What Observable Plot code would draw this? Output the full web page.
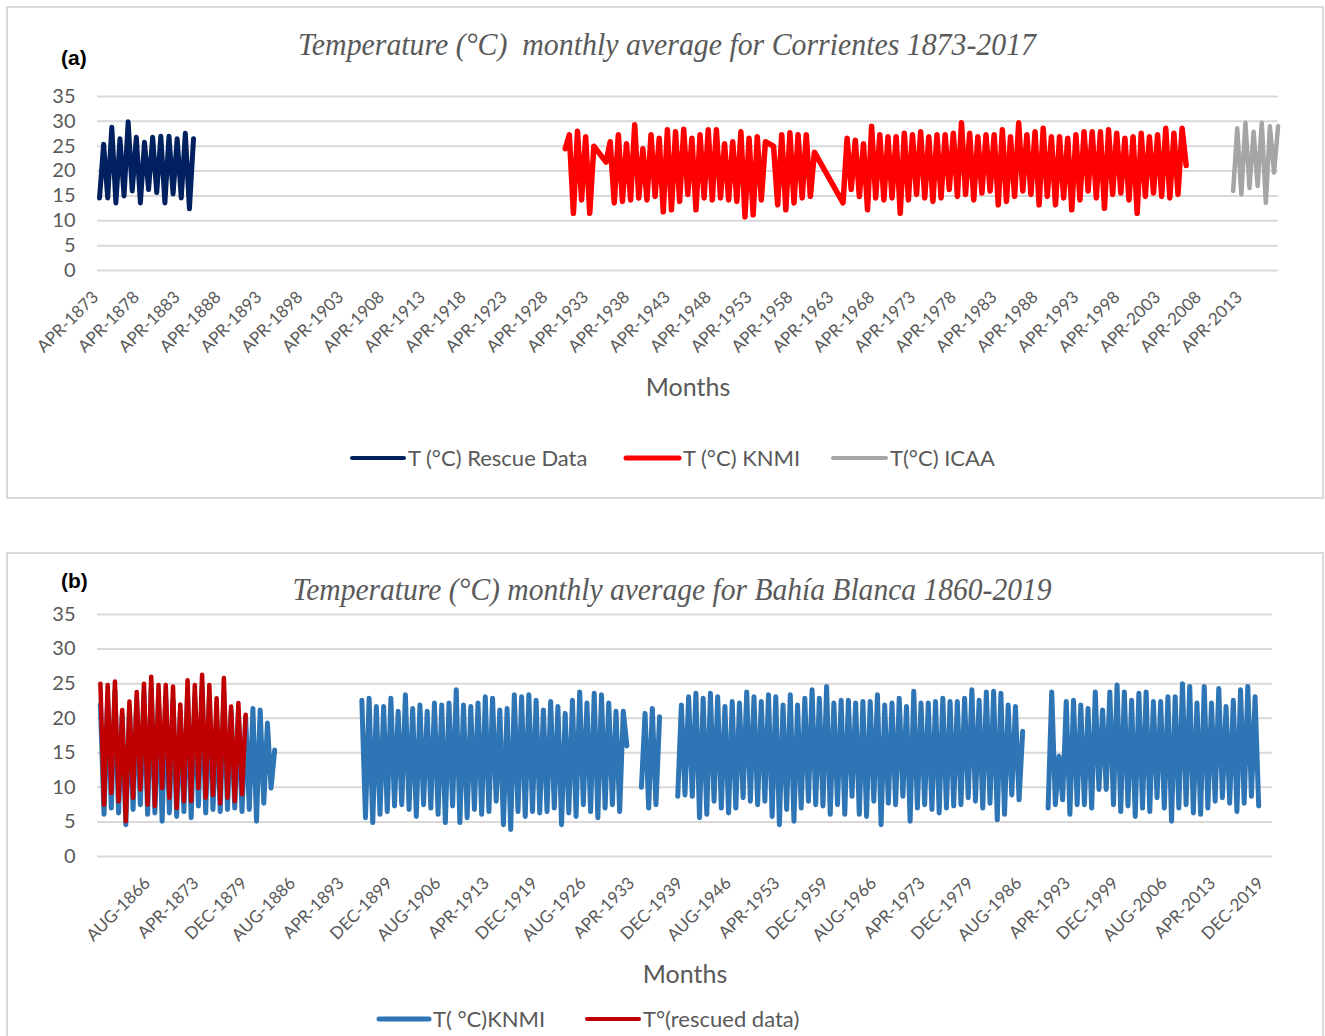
<!DOCTYPE html>
<html><head><meta charset="utf-8">
<script src="https://cdn.jsdelivr.net/npm/d3@7"></script>
<script src="https://cdn.jsdelivr.net/npm/@observablehq/plot@0.6"></script>
<style>
html,body{margin:0;padding:0;background:#fff;}
#page{position:relative;width:1325px;height:1036px;overflow:hidden;background:#fff;font-family:Lato,"Open Sans",sans-serif;}
.box{position:absolute;border:2px solid #d9d9d9;box-sizing:border-box;}
.panel{position:absolute;left:0;}
.panel svg{display:block;max-width:none;}
#overlay text{white-space:pre;}
</style></head>
<body><div id="page">
<div class="box" style="left:6px;top:6px;width:1318px;height:493px"></div>
<div class="box" style="left:6px;top:552px;width:1318px;height:500px"></div>
<div id="pa" class="panel" style="top:0"></div>
<div id="pb" class="panel" style="top:553px"></div>
<svg id="overlay" width="1325" height="1036" style="position:absolute;left:0;top:0;pointer-events:none"></svg>
</div>
<script>
// ---------- shared ----------
const yTicks = [0, 5, 10, 15, 20, 25, 30, 35];
const monthIdx = {JAN:0,FEB:1,MAR:2,APR:3,MAY:4,JUN:5,JUL:6,AUG:7,SEP:8,OCT:9,NOV:10,DEC:11};

// ---------- panel (a) Corrientes ----------
const ticksA = ["APR-1873","APR-1878","APR-1883","APR-1888","APR-1893","APR-1898","APR-1903","APR-1908",
  "APR-1913","APR-1918","APR-1923","APR-1928","APR-1933","APR-1938","APR-1943","APR-1948","APR-1953",
  "APR-1958","APR-1963","APR-1968","APR-1973","APR-1978","APR-1983","APR-1988","APR-1993","APR-1998",
  "APR-2003","APR-2008","APR-2013"];
// half-year samples (summer peak / winter trough), first sample time given by *Start
const rescueStartA = 1873.5;
const rescueA = [14.6, 25.4, 14.6, 28.8, 13.6, 26.5, 15.0, 29.9, 16.0, 26.8, 13.6, 25.8,
  16.3, 26.8, 15.7, 27.0, 13.6, 27.0, 15.4, 26.5, 14.6, 27.6, 12.4, 26.5];
const knmiStartA = 1930.5;
const knmiA = [24.5, 27.3, 11.5, 28.0, 14.2, 26.9, 11.5, 25.0, null, null,
  21.8, 25.9, 13.6, 27.3, 13.9, 25.5, 14.2, 29.3, 14.6, 24.5,
  14.2, 27.3, 14.9, 26.6, 11.8, 28.3, 12.2, 27.9, 13.9, 28.4,
  15.3, 26.6, 12.2, 27.3, 14.6, 28.3, 14.2, 28.3, 14.6, 25.5,
  14.2, 25.9, 13.9, 27.9, 10.8, 26.6, 11.2, 26.9, 14.2, 25.9,
  null, 25.0, 13.2, 27.3, 12.2, 27.7, 13.6, 27.3, 14.6, 27.3,
  14.9, 23.8, null, null, null, null, null, null, 13.6, 26.6,
  16.3, 26.2, 14.9, 25.5, 12.2, 29.0, 14.6, 27.3, 14.2, 26.9,
  14.6, 26.9, 11.5,
  27.6, 14.2, 27.3, 15.3, 27.9, 14.6, 26.9, 13.9, 27.3, 14.6, 27.3, 16.3, 27.6, 14.9, 29.7, 15.3,
  27.6, 14.2, 26.9, 15.6, 27.3, 16.0, 27.3, 13.2, 28.3, 13.9, 26.9, 14.9, 29.7, 16.0, 27.3, 15.3,
  27.9, 13.2, 28.6, 14.9, 26.9, 13.2, 26.9, 14.6, 26.6, 12.2, 27.3, 14.2, 27.9, 16.0, 27.9, 14.6,
  27.9, 12.5, 28.3, 15.3, 27.6, 15.6, 26.6, 14.2, 26.9, 11.5, 27.6, 14.9, 26.9, 15.6, 27.3, 14.9,
  28.6, 14.6, 27.6, 15.3, 28.6, 21.1];
const icaaStartA = 2012.25;
const icaaA = [16.0, 28.6, 15.3, 29.7, 16.6, 27.9, 17.0, 29.7, 13.6, 29.0, 19.7, 29.0];

// ---------- panel (b) Bahía Blanca ----------
const ticksB = ["AUG-1866","APR-1873","DEC-1879","AUG-1886","APR-1893","DEC-1899","AUG-1906","APR-1913",
  "DEC-1919","AUG-1926","APR-1933","DEC-1939","AUG-1946","APR-1953","DEC-1959","AUG-1966","APR-1973",
  "DEC-1979","AUG-1986","APR-1993","DEC-1999","AUG-2006","APR-2013","DEC-2019"];
const rescuedStartB = 1859.0;
const rescuedB = [25.0, 7.5, 24.8, 9.2, 25.3, 8.0, 21.2, 5.1, 22.4, 8.5, 23.8, 9.7, 25.0, 7.5,
  26.0, 7.3, 24.8, 9.9, 24.8, 8.5, 24.6, 7.0, 22.0, 8.0, 25.5, 8.0, 24.8, 9.9, 26.3, 8.5,
  24.8, 8.9, 22.9, 7.7, 25.8, 8.5, 21.7, 8.0, 22.2, 9.0, 20.5];
const knmiB1Start = 1859.0;
const knmiB1 = [22.0, 6.1, 23.0, 7.0, 24.0, 6.3, 20.5, 4.6, 21.5, 6.8, 22.5, 7.5, 23.5, 6.1,
  24.5, 6.3, 22.5, 5.1, 23.0, 6.3, 22.6, 5.8, 21.0, 6.5, 23.5, 5.6, 23.0, 7.3, 24.6, 6.3,
  22.8, 6.8, 20.2, 6.5, 23.6, 6.8, 21.0, 7.0, 20.8, 6.5, 20.2, 6.8, 21.4, 5.1, 21.2, 7.7,
  19.3, 9.9, 15.4];
const knmiB2Start = 1895.0;
const knmiB2 = [22.6, 5.6, 22.9, 4.9, 21.7, 6.1, 21.7, 6.5, 22.9, 7.3, 21.0, 7.5, 23.4, 6.8,
  21.4, 5.8, 21.9, 7.5, 21.0, 7.0, 22.2, 6.1, 21.9, 4.9, 22.2, 7.3, 24.1, 4.9, 21.9, 5.6,
  21.7, 6.8, 22.2, 6.1, 23.1, 6.5, 22.9, 8.0, 21.2, 4.6, 21.4, 3.9, 23.4, 6.5, 23.1, 5.8,
  23.4, 6.5, 22.6, 6.3, 21.2, 6.5, 22.4, 7.0, 21.7, 4.6, 20.7, 6.3, 22.6, 5.8, 23.8, 7.5,
  22.2, 6.5, 23.6, 5.6, 23.4, 7.0, 22.2, 7.5, 21.0, 6.5, 21.0, 16.0];
const knmiB3Start = 1933.5;
const knmiB3 = [10.0, 20.7, 7.0, 21.4, 7.5, 20.2];
const knmiB4Start = 1938.5;
const knmiB4 = [8.7, 21.9, 8.9, 23.1, 8.7, 23.6, 5.6, 22.9, 6.1, 23.6, 8.0, 23.1, 7.0, 21.7,
  6.3, 22.4, 7.0, 22.2, 8.5, 23.8, 8.0, 23.1, 7.5, 22.4, 8.0, 23.4, 5.8, 23.1, 4.6, 21.9,
  6.8, 23.4, 5.1, 21.9, 7.0, 22.9, 8.0, 24.1, 7.5, 22.9, 7.3, 24.6, 6.1, 22.2, 7.5, 22.6,
  6.1, 22.6, 8.7, 22.2, 6.1, 22.4, 5.8, 22.4, 8.0, 23.4, 4.6, 21.9, 7.7, 22.2, 7.5, 22.9,
  8.7, 21.7, 5.1, 23.9, 7.0, 22.2, 7.5, 22.2, 6.8, 22.4, 6.3, 22.9, 7.0, 22.4, 7.3, 22.4,
  7.5, 22.9, 8.5, 24.1, 8.0, 22.6, 7.0, 23.8, 7.7, 23.9, 5.3, 23.6, 6.1, 21.9, 8.9, 21.7,
  8.2, 18.1];
const knmiB5Start = 1989.5;
const knmiB5 = [7.0, 23.8, 7.5, 14.5, 8.2, 22.4, 6.1, 22.6, 7.5, 21.9, 7.5, 21.4, 7.0, 23.8,
  9.7, 21.2, 9.7, 23.8, 7.5, 24.8, 6.5, 23.8, 7.3, 22.6, 5.8, 23.6, 7.0, 23.8, 6.5, 22.4,
  8.5, 22.4, 7.0, 23.1, 5.1, 23.1, 7.0, 25.0, 7.5, 24.6, 6.3, 22.2, 6.1, 24.6, 7.0, 22.2,
  8.0, 24.3, 8.5, 21.7, 7.7, 22.6, 6.5, 24.1, 7.7, 24.6, 8.7, 23.1, 7.3];

// ---------- helpers ----------
const series = (start, values) => values.map((v, i) => ({t: start + 0.5 * i, v}));
const labelTime = s => { const [m, y] = s.split("-"); return +y + monthIdx[m] / 12; };
const GRID = "#d9d9d9", TXT = "#595959";

function makePanel(o) {
  const times = o.ticks.map(labelTime);
  const lab = new Map(times.map((t, i) => [t, o.ticks[i]]));
  return Plot.plot({
    width: 1325, height: o.height,
    marginLeft: 97, marginRight: o.marginRight, marginTop: o.marginTop, marginBottom: o.marginBottom,
    x: {domain: o.xDomain, axis: null},
    y: {domain: [0, 35], axis: null},
    style: {fontFamily: "Lato, 'Open Sans', sans-serif", background: "transparent", color: TXT, overflow: "visible"},
    marks: [
      Plot.gridY(yTicks, {stroke: GRID, strokeOpacity: 1, strokeWidth: 2}),
      Plot.axisY(yTicks, {tickSize: 0, tickPadding: 22, fontSize: 20, fill: TXT, label: null}),
      Plot.axisX(times, {tickSize: 0, tickPadding: o.tickPad, dx: o.tickDx, tickRotate: -45, fontSize: 17, fill: TXT,
        tickFormat: d => lab.get(d), label: null}),
      ...o.lines.map(l => Plot.line(l.data, {x: "t", y: "v", stroke: l.color, strokeWidth: l.width,
        strokeLinejoin: "round", strokeLinecap: "round"}))
    ]
  });
}

const plotA = makePanel({
  height: 498, marginTop: 96, marginBottom: 228, marginRight: 47,
  xDomain: [1873.25, 2017.8], ticks: ticksA, tickPad: 24, tickDx: -2,
  lines: [
    {data: series(rescueStartA, rescueA), color: "#002060", width: 5},
    {data: series(knmiStartA, knmiA).filter(d => d.v != null), color: "#ff0000", width: 5.5},
    {data: series(icaaStartA, icaaA), color: "#a5a5a5", width: 4.5}
  ]
});
document.getElementById("pa").append(plotA);

const plotB = makePanel({
  height: 483, marginTop: 61, marginBottom: 180, marginRight: 53,
  xDomain: [1858.6, 2020.4], ticks: ticksB, tickPad: 24, tickDx: -8,
  lines: [
    {data: series(knmiB1Start, knmiB1), color: "#2e75b6", width: 5},
    {data: series(knmiB2Start, knmiB2), color: "#2e75b6", width: 5},
    {data: series(knmiB3Start, knmiB3), color: "#2e75b6", width: 5},
    {data: series(knmiB4Start, knmiB4), color: "#2e75b6", width: 5},
    {data: series(knmiB5Start, knmiB5), color: "#2e75b6", width: 5},
    {data: series(rescuedStartB, rescuedB), color: "#c00000", width: 4.5}
  ]
});
document.getElementById("pb").append(plotB);

// ---------- overlay texts / legends ----------
const ov = d3.select("#overlay");
function txt(x, y, s, opt = {}) {
  const t = ov.append("text").attr("x", x).attr("y", y).text(s)
    .attr("fill", opt.fill || TXT).attr("font-size", opt.size || 20)
    .attr("font-family", opt.family || "Lato, 'Open Sans', sans-serif")
    .attr("text-anchor", opt.anchor || "start");
  if (opt.italic) t.attr("font-style", "italic");
  if (opt.bold) t.attr("font-weight", "bold");
  if (opt.len) t.attr("textLength", opt.len).attr("lengthAdjust", "spacingAndGlyphs");
  return t;
}
function swatch(x1, x2, y, color, w) {
  ov.append("line").attr("x1", x1).attr("x2", x2).attr("y1", y).attr("y2", y)
    .attr("stroke", color).attr("stroke-width", w).attr("stroke-linecap", "round");
}
const serif = "'Liberation Serif', 'DejaVu Serif', serif";
const bold = "'Liberation Sans', Arial, sans-serif";

txt(61, 65, "(a)", {fill: "#000", size: 21, family: bold, bold: true});
txt(667, 55, "Temperature (°C)  monthly average for Corrientes 1873-2017",
  {anchor: "middle", size: 32, family: serif, italic: true, len: 738});
txt(688, 396, "Months", {anchor: "middle", size: 25});
swatch(352, 404, 458, "#002060", 4); txt(408, 466, "T (°C) Rescue Data", {size: 22});
swatch(626, 679, 458, "#ff0000", 5); txt(683, 466, "T (°C) KNMI", {size: 22});
swatch(833, 886, 458, "#a5a5a5", 4); txt(890, 466, "T(°C) ICAA", {size: 22});

txt(61, 588, "(b)", {fill: "#000", size: 21, family: bold, bold: true});
txt(672, 600, "Temperature (°C) monthly average for Bahía Blanca 1860-2019",
  {anchor: "middle", size: 32, family: serif, italic: true, len: 759});
txt(685, 983, "Months", {anchor: "middle", size: 25});
swatch(379, 429, 1019, "#2e75b6", 5); txt(433, 1027, "T( °C)KNMI", {size: 22});
swatch(587, 639, 1019, "#c00000", 4); txt(643, 1027, "T°(rescued data)", {size: 22});
</script>
</body></html>
